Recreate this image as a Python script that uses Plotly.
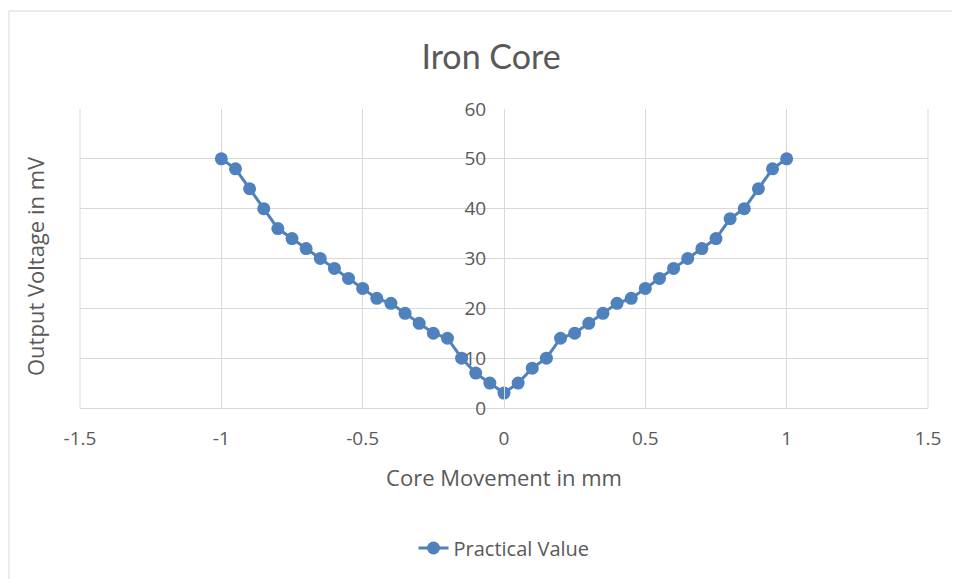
import plotly.graph_objects as go

movement_mm = [-1, -0.95, -0.9, -0.85, -0.8, -0.75, -0.7, -0.65, -0.6, -0.55, -0.5,
               -0.45, -0.4, -0.35, -0.3, -0.25, -0.2, -0.15, -0.1, -0.05, 0,
               0.05, 0.1, 0.15, 0.2, 0.25, 0.3, 0.35, 0.4, 0.45, 0.5,
               0.55, 0.6, 0.65, 0.7, 0.75, 0.8, 0.85, 0.9, 0.95, 1]
voltage_mv = [50, 48, 44, 40, 36, 34, 32, 30, 28, 26, 24,
              22, 21, 19, 17, 15, 14, 10, 7, 5, 3,
              5, 8, 10, 14, 15, 17, 19, 21, 22, 24,
              26, 28, 30, 32, 34, 38, 40, 44, 48, 50]
x_ticks = [-1.5, -1, -0.5, 0, 0.5, 1, 1.5]
y_ticks = [0, 10, 20, 30, 40, 50, 60]

FONT = "Open Sans"
TITLE_FONT = "Lato"
GREY = "#595959"
BLUE = "#4f81bd"

# page offset of 8px (body margin) compensated
OFF = 8
L, R_PX, T, B_PX = 80 - OFF, 928 - OFF, 109 - OFF, 408 - OFF
W, H = 960, 579
PW, PH = R_PX - L, B_PX - T


def px(xp):
    return (xp - OFF - L) / PW


def py(yp):
    return (B_PX - (yp - OFF)) / PH


fig = go.Figure()
fig.add_trace(go.Scatter(
    x=movement_mm, y=voltage_mv, mode="lines+markers", name="Practical Value",
    line=dict(color=BLUE, width=3), marker=dict(color=BLUE, size=13),
))

fig.update_layout(
    width=W, height=H,
    margin=dict(l=L, r=W - R_PX, t=T, b=H - B_PX),
    paper_bgcolor="white", plot_bgcolor="white",
    font=dict(family=FONT, color=GREY, size=19),
    title=dict(text="Iron Core", x=(491 - OFF) / W, xanchor="center", y=1 - (57 - OFF) / H,
               yanchor="middle", font=dict(size=34, color=GREY, family=TITLE_FONT)),
    showlegend=True,
    legend=dict(orientation="h", x=0.5, xanchor="center", y=py(548), yanchor="middle",
                font=dict(size=20, color=GREY, family=FONT)),
    xaxis=dict(range=[-1.5, 1.5], tickvals=x_ticks, ticktext=[f"{v:g}" for v in x_ticks],
               showgrid=True, gridcolor="#d9d9d9", gridwidth=1, zeroline=False,
               showline=True, linecolor="#d9d9d9", linewidth=1, ticks="",
               ticklabelstandoff=13,
               title=dict(text="Core Movement in mm", font=dict(size=22, color=GREY), standoff=20),
               tickfont=dict(size=19, color=GREY)),
    yaxis=dict(range=[0, 60], tickvals=y_ticks, anchor="free", position=0.5,
               showgrid=True, gridcolor="#d9d9d9", gridwidth=1, zeroline=False,
               showline=True, linecolor="#d9d9d9", linewidth=1, ticks="",
               ticklabelstandoff=14,
               tickfont=dict(size=19, color=GREY)),
    annotations=[dict(text="Output Voltage in mV", xref="paper", yref="paper",
                      x=px(35), y=py(266), textangle=-90, showarrow=False,
                      xanchor="center", yanchor="middle", font=dict(size=22, color=GREY))],
    shapes=[
        dict(type="rect", xref="paper", yref="paper", x0=px(9), x1=px(990),
             y0=py(620), y1=py(11), line=dict(color="#d9d9d9", width=1),
             layer="below"),
        dict(type="line", xref="paper", yref="paper", x0=0, x1=0, y0=0, y1=1,
             line=dict(color="#d9d9d9", width=1)),
        dict(type="line", xref="paper", yref="paper", x0=1, x1=1, y0=0, y1=1,
             line=dict(color="#d9d9d9", width=1)),
    ],
)

fig.write_html("out.html")
